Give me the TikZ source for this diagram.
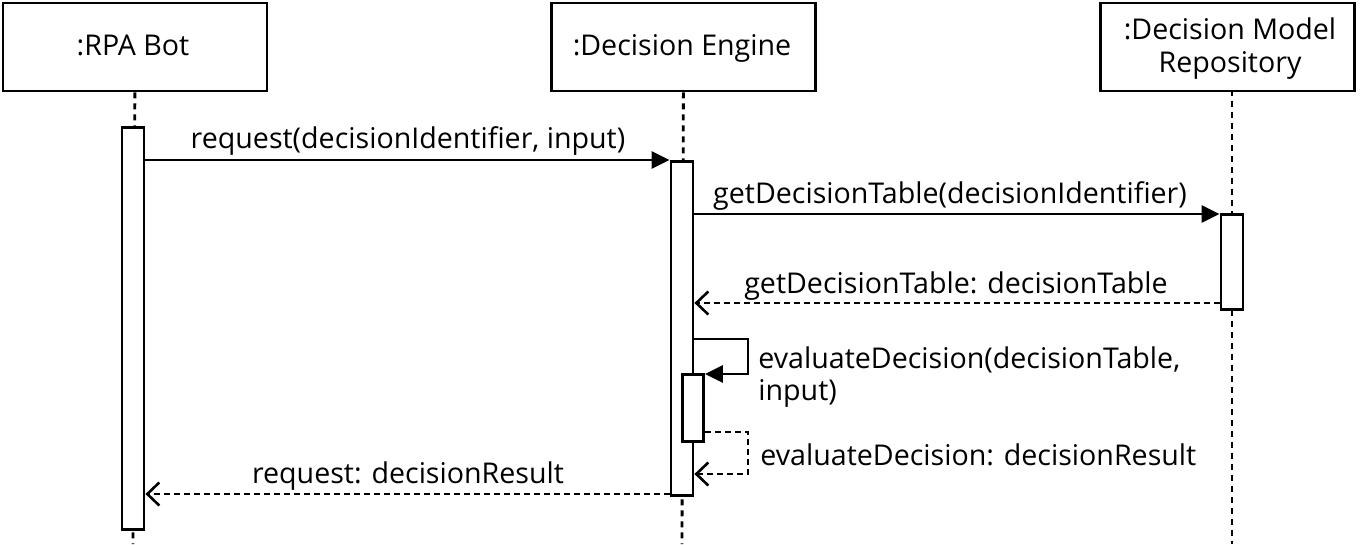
\documentclass[tikz,border=0pt]{standalone}
\usepackage{fontspec}
\setmainfont{Open Sans}
\usetikzlibrary{arrows.meta}
\begin{document}
\begin{tikzpicture}[x=1pt,y=-1pt,line width=2.8pt,
  font=\fontsize{28.6}{36}\selectfont,
  obj/.style={draw,rectangle,inner sep=0pt,minimum width=264pt,minimum height=88pt,anchor=north west,align=center},
  act/.style={draw,fill=white,rectangle,inner sep=0pt,minimum width=22pt,anchor=north},
  life/.style={dash pattern=on 6pt off 5pt},
  call/.style={-{Triangle[length=18pt,width=17pt]}},
  ret/.style={dash pattern=on 6pt off 4pt,-{Straight Barb[length=12pt,width=23pt,line width=2.6pt]}},
  lbl/.style={anchor=base,inner sep=0pt}]
\useasboundingbox (0,0) rectangle (1364,544);
% objects
\node[obj] (bot) at (1.5,1.5) {};
\node[obj] (eng) at (550,1.5) {};
\node[obj,minimum width=254pt] (rep) at (1099,1.5) {};
\node[lbl] (botT) at (133,55) {:RPA Bot};
\node[lbl] (engT) at (682,55) {:Decision Engine};
\node[lbl] (repT1) at (1230,39) {:Decision Model};
\node[lbl] (repT2) at (1230,72) {Repository};
% lifeline ends
\coordinate (botE) at (133,544);
\coordinate (engE) at (682,544);
\coordinate (repE) at (1232,544);
\draw[life] (bot.south) -- (botE);
\draw[life] (eng.south) -- (engE);
\draw[life] (1232,89.5) coordinate (repS) -- (repE);
% activations
\node[act,minimum height=402pt] (a1) at (133,126) {};
\node[act,minimum height=334pt] (a2) at (682,160) {};
\node[act,minimum height=95pt] (a3) at (1232,213) {};
\node[act,minimum height=67pt,minimum width=21pt] (a4) at (693,373) {};
% messages
\coordinate (m1) at (0,160);
\coordinate (m2) at (0,214);
\coordinate (m3) at (0,303);
\coordinate (m6) at (0,494);
\draw[call] (a1.east |- m1) -- (a2.west |- m1);
\node[lbl] at (408,148) {request(decisionIdentifier, input)};
\draw[call] (a2.east |- m2) -- (a3.west |- m2);
\node[lbl] at (950,203) {getDecisionTable(decisionIdentifier)};
\draw[ret] (a3.west |- m3) -- (a2.east |- m3);
\node[lbl] at (956,293) {getDecisionTable: decisionTable};
% self call
\coordinate (s1) at (748,339);
\coordinate (s2) at (748,374);
\draw[call] (a2.east |- s1) -- (s1) -- (s2) -- (a4.east |- s2);
\node[lbl,anchor=base west] at (757,368) {evaluateDecision(decisionTable,};
\node[lbl,anchor=base west] at (757,400) {input)};
% self return
\coordinate (r1) at (748,432);
\coordinate (r2) at (748,474);
\draw[ret] (a4.east |- r1) -- (r1) -- (r2) -- (a2.east |- r2);
\node[lbl,anchor=base west] at (759,465) {evaluateDecision: decisionResult};
% final return
\draw[ret] (a2.west |- m6) -- (a1.east |- m6);
\node[lbl] at (408,483) {request: decisionResult};
\end{tikzpicture}
\end{document}
